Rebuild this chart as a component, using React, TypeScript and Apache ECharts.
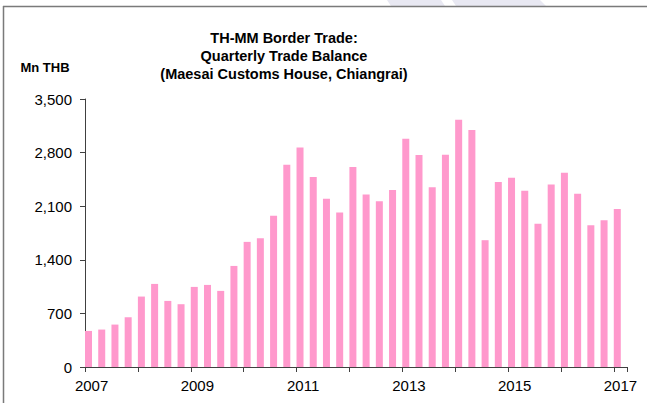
import React, { useEffect, useRef } from "react";
import * as echarts from "echarts";

const quarters: string[] = [];
for (let y = 2007; y <= 2017; y++) {
  for (let q = 1; q <= 4; q++) {
    if (y === 2017 && q > 1) break;
    quarters.push(`${y}Q${q}`);
  }
}

const tradeBalance = [
  471, 489, 554, 650,
  920, 1085, 863, 820,
  1046, 1072, 994, 1320,
  1634, 1683, 1974, 2641,
  2868, 2480, 2196, 2018,
  2611, 2254, 2166, 2310,
  2981, 2768, 2349, 2772,
  3229, 3094, 1656, 2415,
  2471, 2301, 1870, 2384,
  2536, 2262, 1852, 1918,
  2062,
];

const yTicks = { min: 0, max: 3500, interval: 700 };
const titleLines = [
  "TH-MM Border Trade:",
  "Quarterly Trade Balance",
  "(Maesai Customs House, Chiangrai)",
];
const unitLabel = "Mn THB";

const FONT = "'Liberation Sans', Arial, sans-serif";

export default function App() {
  const ref = useRef<HTMLDivElement>(null);
  useEffect(() => {
    if (!ref.current) return;
    const chart = echarts.init(ref.current, undefined, { renderer: "svg" });
    chart.setOption({
      animation: false,
      backgroundColor: "#ffffff",
      graphic: [
        {
          type: "polygon",
          shape: { points: [[387, 0], [441, 0], [445, 6], [391, 6]] },
          style: { fill: "#e8e8f2" },
          silent: true,
        },
        {
          type: "polygon",
          shape: { points: [[452, 0], [540, 0], [546, 6], [456, 6]] },
          style: { fill: "#e8e8f2" },
          silent: true,
        },
        {
          type: "line",
          shape: { x1: 3, y1: 6.5, x2: 647, y2: 6.5 },
          style: { stroke: "#7a7a7a", lineWidth: 1.5 },
          silent: true,
        },
        {
          type: "line",
          shape: { x1: 3.5, y1: 6, x2: 3.5, y2: 403 },
          style: { stroke: "#7a7a7a", lineWidth: 1.5 },
          silent: true,
        },
        ...titleLines.map((t, i) => ({
          type: "text",
          x: 284,
          y: 37.5 + i * 18,
          style: {
            text: t,
            fontFamily: FONT,
            fontSize: 14.5,
            fontWeight: "bold",
            fill: "#000",
            textAlign: "center",
            textVerticalAlign: "middle",
          },
          silent: true,
        })),
        {
          type: "text",
          x: 45,
          y: 67.5,
          style: {
            text: unitLabel,
            fontFamily: FONT,
            fontSize: 13,
            fontWeight: "bold",
            fill: "#000",
            textAlign: "center",
            textVerticalAlign: "middle",
          },
          silent: true,
        },
      ],
      grid: { left: 85, right: 20, top: 99, bottom: 36, containLabel: false },
      xAxis: {
        type: "category",
        data: quarters,
        boundaryGap: true,
        axisLine: { lineStyle: { color: "#404040", width: 1 } },
        axisTick: {
          show: true,
          length: 5,
          interval: (i: number) => i % 4 === 0,
          lineStyle: { color: "#404040" },
        },
        axisLabel: {
          interval: (i: number) => i % 8 === 0,
          formatter: (v: string) => v.slice(0, 4),
          fontFamily: FONT,
          fontSize: 15,
          color: "#000",
          margin: 11,
        },
        splitLine: { show: false },
      },
      yAxis: {
        type: "value",
        min: yTicks.min,
        max: yTicks.max,
        interval: yTicks.interval,
        axisLine: { show: true, lineStyle: { color: "#404040", width: 1 } },
        axisTick: { show: true, length: 5, lineStyle: { color: "#404040" } },
        axisLabel: {
          fontFamily: FONT,
          fontSize: 15,
          color: "#000",
          margin: 13,
          formatter: (v: number) => v.toLocaleString("en-US"),
        },
        splitLine: { show: false },
      },
      series: [
        {
          type: "bar",
          data: tradeBalance,
          barWidth: 7,
          barGap: 0,
          itemStyle: { color: "#ff99cc" },
        },
        {
          type: "bar",
          data: quarters.map(() => null),
          barWidth: 6.2,
          barGap: 0,
          itemStyle: { color: "transparent" },
          silent: true,
        },
      ],
    });
    return () => chart.dispose();
  }, []);
  return (
    <div
      ref={ref}
      style={{ position: "fixed", left: 0, top: 0, width: 647, height: 403 }}
    />
  );
}
